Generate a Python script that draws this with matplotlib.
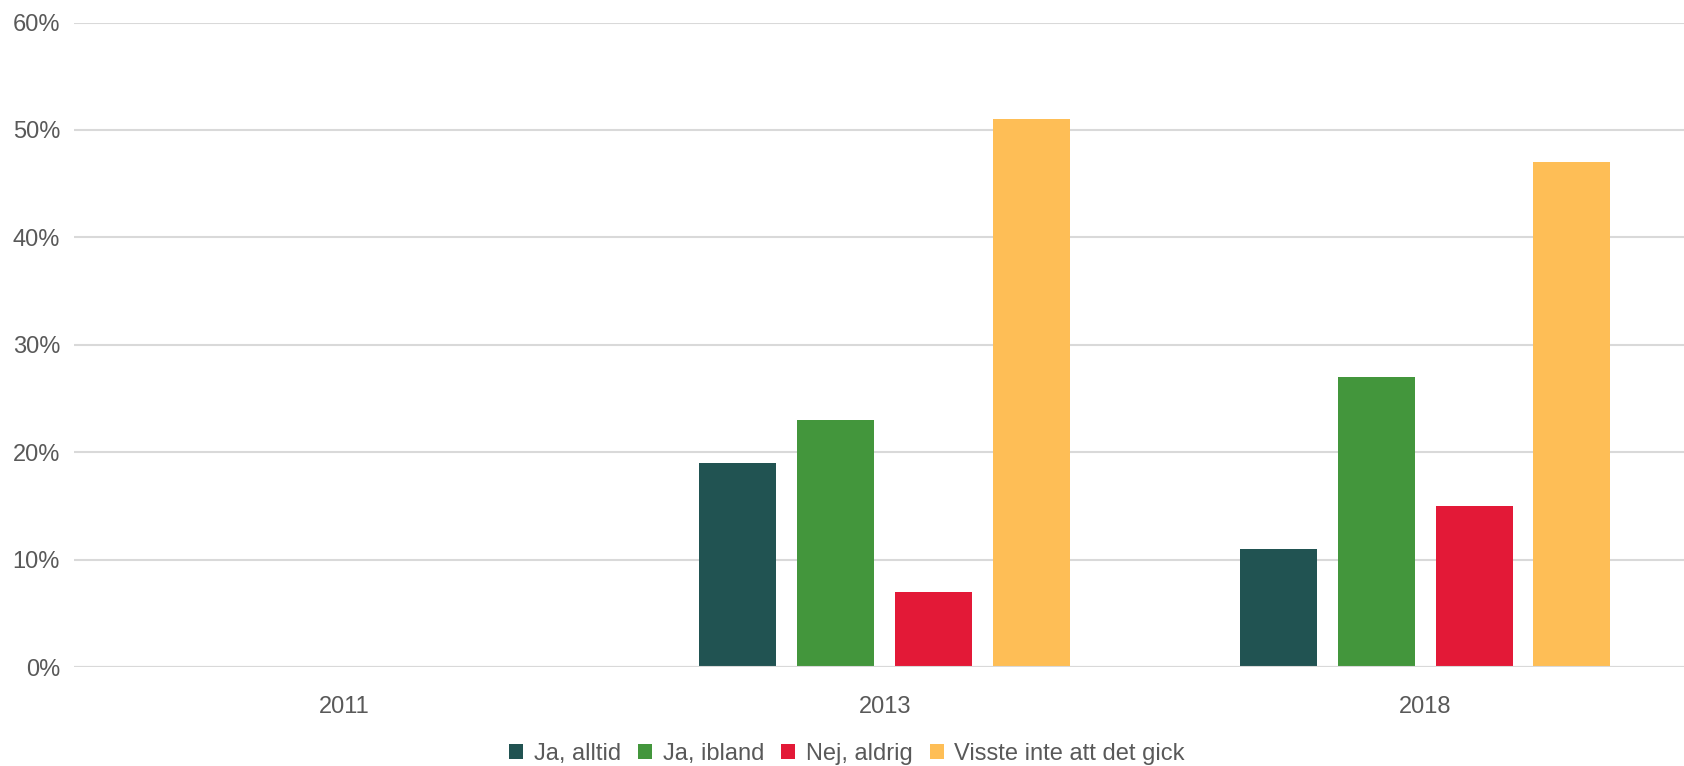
import matplotlib
matplotlib.use("Agg")
import matplotlib.pyplot as plt
import numpy as np
from matplotlib.ticker import FuncFormatter

plt.rcParams['font.family'] = ['Liberation Sans', 'DejaVu Sans']

years = ["2011", "2013", "2018"]
series_names = ["Ja, alltid", "Ja, ibland", "Nej, aldrig", "Visste inte att det gick"]
ja_alltid = [np.nan, 19, 11]
ja_ibland = [np.nan, 23, 27]
nej_aldrig = [np.nan, 7, 15]
visste_inte = [np.nan, 51, 47]
colors = ["#215352", "#43963c", "#e31937", "#febe56"]
yticks = [0, 10, 20, 30, 40, 50, 60]

fig = plt.figure(figsize=(16.84, 7.66), dpi=100)
ax = fig.add_axes([74/1684, 1 - 667/766, 1 - 74/1684, (667 - 22.5)/766])

x = np.arange(len(years))
width = 0.1425
step = 0.181
data = [ja_alltid, ja_ibland, nej_aldrig, visste_inte]
for i, (vals, name, c) in enumerate(zip(data, series_names, colors)):
    offs = (i - 1.5) * step
    ax.bar(x + offs, vals, width=width, color=c, label=name, zorder=2)

ax.set_xlim(-0.5, 2.479)
ax.set_ylim(0, 60)
ax.set_yticks(yticks)
ax.yaxis.set_major_formatter(FuncFormatter(lambda v, p: f"{int(v)}%"))
ax.set_xticks(x)
ax.set_xticklabels(years)
ax.grid(axis='y', color='#d9d9d9', linewidth=1.5, zorder=0)
ax.axhline(0, color='#d9d9d9', linewidth=1.5, zorder=3)
for s in ax.spines.values():
    s.set_visible(False)
ax.tick_params(axis='both', length=0, labelsize=17, colors='#595959')
ax.tick_params(axis='x', pad=21)
ax.tick_params(axis='y', pad=10)

leg = fig.legend(loc='center', bbox_to_anchor=(847/1684, 1 - 754/766), ncol=4,
                 frameon=False, fontsize=17, handlelength=0.6, handleheight=0.6,
                 handletextpad=0.45, columnspacing=0.72, borderaxespad=0, borderpad=0)
for t in leg.get_texts():
    t.set_color('#595959')

fig.savefig("out.png", dpi=100)
